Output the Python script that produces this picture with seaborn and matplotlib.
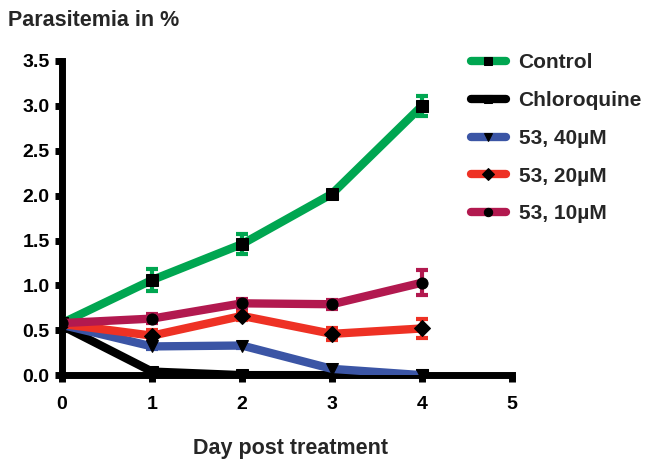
import matplotlib
matplotlib.use("Agg")
import matplotlib.pyplot as plt
import numpy as np
import pandas as pd
import seaborn as sns

sns.set_style("ticks")
plt.rcParams["font.family"] = ["Liberation Sans", "DejaVu Sans"]
plt.rcParams["font.weight"] = "bold"

days = [0, 1, 2, 3, 4]
series_names = ["Control", "Chloroquine", "53, 40\u00b5M", "53, 20\u00b5M", "53, 10\u00b5M"]
control = [0.58, 1.06, 1.46, 2.02, 3.00]
chloroquine = [0.55, 0.04, 0.0, 0.0, 0.0]
c53_40 = [0.56, 0.32, 0.33, 0.07, 0.0]
c53_20 = [0.57, 0.44, 0.66, 0.46, 0.52]
c53_10 = [0.58, 0.63, 0.80, 0.79, 1.03]
control_err = [0.0, 0.12, 0.11, 0.03, 0.11]
chloroquine_err = [0.0, 0.0, 0.0, 0.0, 0.0]
c53_40_err = [0.0, 0.03, 0.03, 0.02, 0.0]
c53_20_err = [0.0, 0.06, 0.05, 0.07, 0.11]
c53_10_err = [0.0, 0.05, 0.05, 0.05, 0.14]

COLORS = ["#00a651", "#000000", "#3b55a5", "#ee3124", "#b2194f"]
MARKERS = ["s", "s", "v", "D", "o"]

values = [control, chloroquine, c53_40, c53_20, c53_10]
errors = [control_err, chloroquine_err, c53_40_err, c53_20_err, c53_10_err]

df = pd.DataFrame({
    "day": days * len(series_names),
    "value": sum(values, []),
    "err": sum(errors, []),
    "treatment": [n for n in series_names for _ in days],
})

fig = plt.figure(figsize=(6.53, 4.62), dpi=100)
ax = fig.add_axes([0.095, 0.188, 0.689, 0.68])

# error bars first, lines on top
for name, color in zip(series_names, COLORS):
    sub = df[df.treatment == name]
    ax.errorbar(sub.day, sub.value, yerr=sub.err, fmt="none", ecolor=color,
                elinewidth=3, capsize=4, capthick=3, zorder=2)

ax = sns.lineplot(
    data=df, x="day", y="value", hue="treatment", style="treatment",
    palette=COLORS, markers=MARKERS, dashes=False, linewidth=6,
    markersize=8, markerfacecolor="black", markeredgecolor="black",
    ax=ax, zorder=3,
)

ax.set_xlim(0, 5)
ax.set_ylim(0, 3.5)
ax.set_xticks(range(0, 6))
ax.set_yticks(np.arange(0, 3.6, 0.5))
ax.set_yticklabels([f"{v:.1f}" for v in np.arange(0, 3.6, 0.5)])
ax.tick_params(axis="both", labelsize=14, width=5, length=5, direction="out",
               colors="black", pad=4)
for lbl in ax.get_xticklabels() + ax.get_yticklabels():
    lbl.set_fontweight("bold")
ax.tick_params(axis="x", pad=10)
for side in ["top", "right"]:
    ax.spines[side].set_visible(False)
for side in ["left", "bottom"]:
    ax.spines[side].set_linewidth(5)
    ax.spines[side].set_color("black")
    ax.spines[side].set_zorder(1)

ax.set_xlabel("")
ax.set_ylabel("")
fig.text(0.012, 0.955, "Parasitemia in %", fontsize=15.5, fontweight="bold", va="center")
fig.text(0.445, 0.03, "Day post treatment", fontsize=15.5, fontweight="bold", ha="center", va="center")

handles, labels = ax.get_legend_handles_labels()
for h in handles:
    h.set_markersize(6)
ax.legend(handles, labels, loc="upper left", bbox_to_anchor=(0.692, 0.925),
          bbox_transform=fig.transFigure, frameon=False,
          handlelength=1.7, handletextpad=0.6, labelspacing=0.9,
          prop={"weight": "bold", "size": 15})

fig.savefig("out.png", dpi=100)
